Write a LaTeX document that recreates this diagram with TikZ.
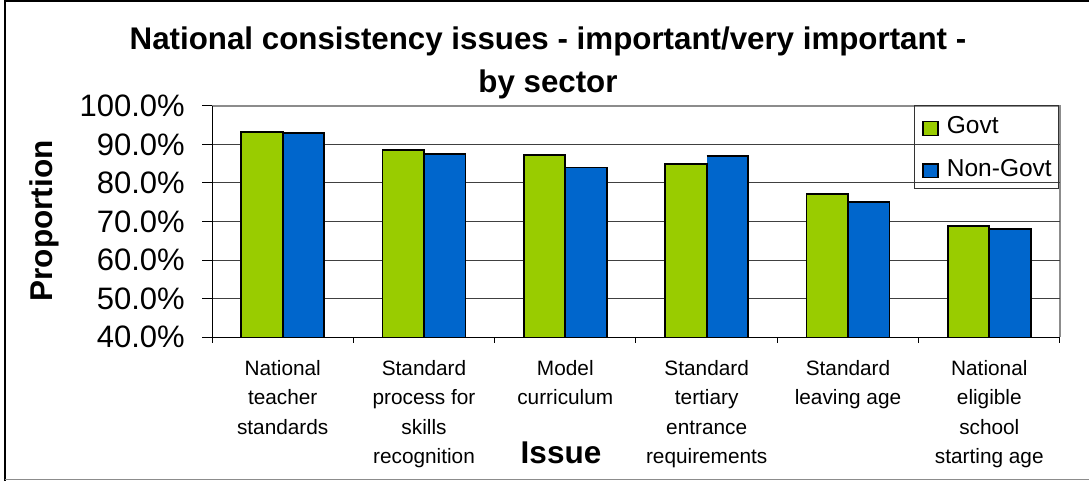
\documentclass[tikz,border=0pt]{standalone}
\usepackage{fontspec}
\setmainfont{Liberation Sans}
\definecolor{govt}{RGB}{153,204,0}
\definecolor{ngovt}{RGB}{0,102,204}
\begin{document}
\begin{tikzpicture}[x=1pt,y=-1pt,
  bar/.style={draw=black,line width=1.8pt},
  gridline/.style={line width=1pt,black!75},
  axisline/.style={line width=1pt,black},
  ticklab/.style={anchor=east,inner sep=0pt,font=\fontsize{31}{31}\selectfont},
  catlab/.style={anchor=north,align=center,inner sep=0pt,font=\fontsize{20.8}{29.5}\selectfont},
  axtitle/.style={inner sep=0pt,font=\fontsize{31.5}{31.5}\selectfont\bfseries},
  legsq/.style={draw=black,line width=1.4pt},
  legtext/.style={anchor=base west,inner sep=0pt,font=\fontsize{24.5}{24.5}\selectfont}]
\useasboundingbox (0,0) rectangle (1089,481);
% frame
\draw[line width=2pt,black] (4.5,481) -- (4.5,1) -- (1089,1);
\draw[line width=1.5pt,black!45] (4.5,479.5) -- (1089,479.5);
% title
\node[anchor=north,align=center,inner sep=0pt,font=\fontsize{31.3}{43}\selectfont\bfseries] (title) at (548,26.5)
  {National consistency issues - important/very important -\\by sector};
% plot area border
\draw[line width=1.5pt,black!45] (212,106) -- (1060,106) -- (1060,337);
% gridlines and y tick labels
\foreach \v in {50,60,70,80,90}{
  \draw[gridline] (212,{337-(\v-40)*3.85}) -- (1060,{337-(\v-40)*3.85});
}
\foreach \v/\lab in {40/40.0\%,50/50.0\%,60/60.0\%,70/70.0\%,80/80.0\%,90/90.0\%,100/100.0\%}{
  \draw[axisline] (202,{337-(\v-40)*3.85}) -- (212,{337-(\v-40)*3.85});
  \node[ticklab] (t\v) at (185,{337-(\v-40)*3.85}) {\lab};
}
% bars
\foreach \i/\g/\n in {0/93.3/92.9,1/88.6/87.5,2/87.2/84.0,3/85.0/87.1,4/77.1/75.1,5/68.8/68.0}{
  \pgfmathsetmacro{\cx}{212+141.33*(\i+0.5)}
  \fill[govt] ({\cx-41.5},337) rectangle (\cx,{337-(\g-40)*3.85});
  \fill[ngovt] (\cx,337) rectangle ({\cx+41.5},{337-(\n-40)*3.85});
  \draw[bar] ({\cx-41.5},337) -- ({\cx-41.5},{337-(\g-40)*3.85}) -- (\cx,{337-(\g-40)*3.85}) -- (\cx,337);
  \draw[bar] (\cx,{337-(\n-40)*3.85}) -- ({\cx+41.5},{337-(\n-40)*3.85}) -- ({\cx+41.5},337);
}
% axes
\draw[axisline] (212,106) -- (212,337) -- (1060,337);
\foreach \i in {0,...,6}{
  \draw[axisline] ({212+141.33*\i},337) -- ({212+141.33*\i},343);
}
% category labels
\node[catlab] (c1) at (282.7,360) {National\\teacher\\standards};
\node[catlab] (c2) at (424.0,360) {Standard\\process for\\skills\\recognition};
\node[catlab] (c3) at (565.3,360) {Model\\curriculum};
\node[catlab] (c4) at (706.7,360) {Standard\\tertiary\\entrance\\requirements};
\node[catlab] (c5) at (848.0,360) {Standard\\leaving age};
\node[catlab] (c6) at (989.3,360) {National\\eligible\\school\\starting age};
% axis titles
\node[axtitle,anchor=base] (xt) at (561,463) {Issue};
\node[axtitle,anchor=base,rotate=90] (yt) at (52,221) {Proportion};
% legend
\draw[line width=1pt,black!80] (914,106) rectangle (1058,189);
\filldraw[legsq,fill=govt] (923,121.7) rectangle (938,135.7);
\node[legtext] (lg) at (946.7,134) {Govt};
\filldraw[legsq,fill=ngovt] (923,164) rectangle (938,177.7);
\node[legtext] (ln) at (946.7,176.7) {Non-Govt};
\end{tikzpicture}
\end{document}
